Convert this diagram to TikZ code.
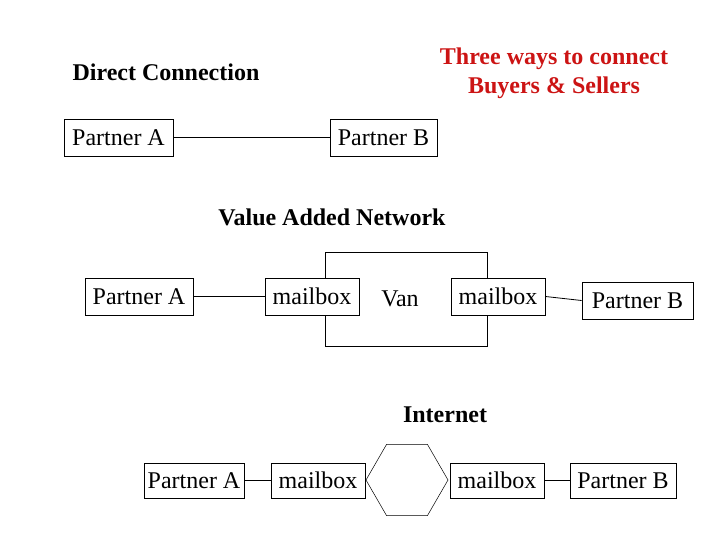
\documentclass[tikz,border=0pt]{standalone}
\usepackage{fontspec}
\setmainfont{Liberation Serif}
\usetikzlibrary{shapes.geometric}
\definecolor{titlered}{RGB}{204,20,20}
\begin{document}
\begin{tikzpicture}[x=1pt,y=-1pt,
  box/.style={draw,line width=0.8pt,inner sep=0pt,fill=white,font=\fontsize{24}{28}\selectfont},
  head/.style={font=\fontsize{24}{28}\selectfont\bfseries,inner sep=0pt},
  conn/.style={line width=0.8pt}]
\useasboundingbox (0,0) rectangle (720,540);
% title
\node[head,text=titlered,align=center] (title) at (554,73) {Three ways to connect\\[1pt]Buyers \& Sellers};
% direct connection
\node[head] (dchead) at (166,72) {Direct Connection};
\node[box,minimum width=109pt,minimum height=37pt] (dA) at (118.5,137.5) {Partner A};
\node[box,minimum width=107pt,minimum height=37pt] (dB) at (383.5,137.5) {Partner B};
\draw[conn] (dA) -- (dB);
% VAN
\node[head] (vanhead) at (332,217) {Value Added Network};
\node[draw,line width=0.8pt,minimum width=162pt,minimum height=94pt,inner sep=0pt] (vanbox) at (406,299) {};
\node[box,minimum width=108pt,minimum height=37pt] (vA) at (139,296.5) {Partner A};
\node[box,minimum width=94pt,minimum height=37pt] (vm1) at (312,296.5) {mailbox};
\node[box,minimum width=94pt,minimum height=37pt] (vm2) at (498,296.5) {mailbox};
\node[box,minimum width=111pt,minimum height=37pt] (vB) at (637.5,300.5) {Partner B};
\node[font=\fontsize{24}{28}\selectfont,inner sep=0pt] (vanlabel) at (400,299) {Van};
\draw[conn] (vA) -- (vm1);
\draw[conn] (vm2.east) -- (vB.west);
% Internet
\node[head] (inthead) at (445,415) {Internet};
\node[box,minimum width=100pt,minimum height=35pt] (iA) at (194,480.5) {Partner A};
\node[box,minimum width=94pt,minimum height=35pt] (im1) at (318,480.5) {mailbox};
\node[draw,regular polygon,regular polygon sides=6,minimum size=82pt,inner sep=0pt,line width=0.5pt] (net) at (407,480) {};
\node[box,minimum width=94pt,minimum height=35pt] (im2) at (497,480.5) {mailbox};
\node[box,minimum width=106pt,minimum height=35pt] (iB) at (623,480.5) {Partner B};
\draw[conn] (iA) -- (im1);
\draw[conn] (im2) -- (iB);
\end{tikzpicture}
\end{document}
